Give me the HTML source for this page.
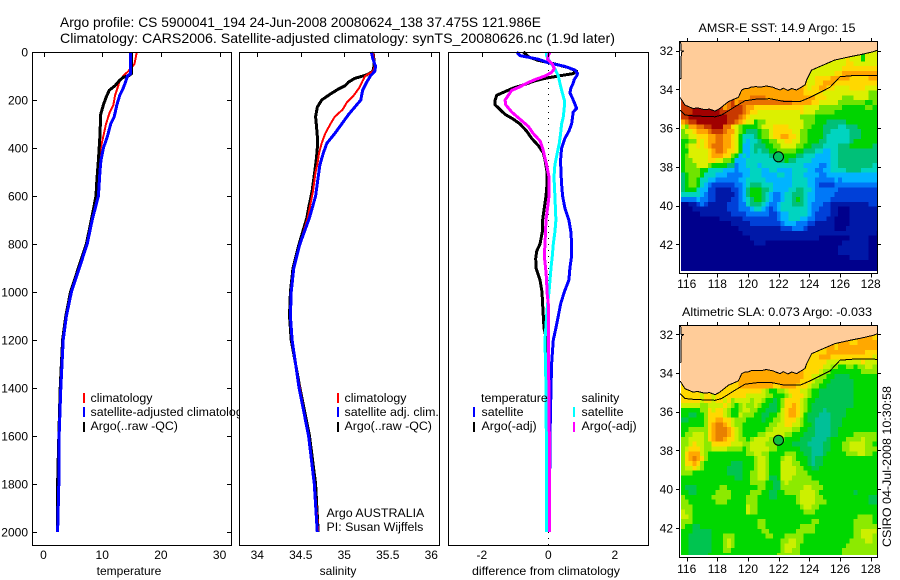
<!DOCTYPE html>
<html lang="en">
<head>
<meta charset="utf-8">
<title>Argo profile</title>
<style>
html,body{margin:0;padding:0;background:#fff;}
svg{display:block;}
text{font-family:"Liberation Sans",sans-serif;font-size:12px;fill:#000;}
text.title{font-size:14px;}
text.lg{font-size:12.4px;}
.line{fill:none;stroke-linejoin:round;shape-rendering:crispEdges;}
.frame{fill:none;stroke:#000;stroke-width:1;shape-rendering:crispEdges;}
.tick{stroke:#000;stroke-width:1;shape-rendering:crispEdges;}
</style>
</head>
<body>
<svg id="chart" width="900" height="580" viewBox="0 0 900 580" xmlns="http://www.w3.org/2000/svg">
<defs>
<clipPath id="clip-sst"><rect x="681" y="42" width="196" height="229"></rect></clipPath>
<clipPath id="clip-sla"><rect x="681" y="326" width="196" height="229"></rect></clipPath>
</defs>
<rect x="0" y="0" width="900" height="580" fill="#fff"></rect>
<text class="title" x="60" y="27" textLength="481" lengthAdjust="spacingAndGlyphs">Argo profile: CS 5900041_194 24-Jun-2008 20080624_138 37.475S 121.986E</text>
<text class="title" x="60" y="43" textLength="555" lengthAdjust="spacingAndGlyphs">Climatology: CARS2006. Satellite-adjusted climatology: synTS_20080626.nc (1.9d later)</text>

<g id="temp-panel">
<rect x="32.5" y="52.5" width="199" height="493" fill="#fff"></rect>
<g id="temp-lines"></g>
<rect x="83" y="393" width="2" height="10" fill="#f00"></rect>
<rect x="83" y="407" width="2" height="10" fill="#00f"></rect>
<rect x="83" y="422" width="2" height="10" fill="#000"></rect>
<text class="lg" x="90.5" y="402">climatology</text>
<text class="lg" x="90.5" y="416">satellite-adjusted climatology</text>
<text class="lg" x="90.5" y="430">Argo(..raw -QC)</text>
<text x="129" y="575" text-anchor="middle">temperature</text>
<g id="temp-axis"></g>
<rect class="frame" x="32.5" y="52.5" width="199" height="493"></rect>
</g>

<g id="sal-panel">
<rect x="239.5" y="52.5" width="200" height="493" fill="#fff"></rect>
<g id="sal-lines"></g>
<rect x="337" y="393" width="2" height="10" fill="#f00"></rect>
<rect x="337" y="407" width="2" height="10" fill="#00f"></rect>
<rect x="337" y="422" width="2" height="10" fill="#000"></rect>
<text class="lg" x="344.5" y="402">climatology</text>
<text class="lg" x="344.5" y="416">satellite adj. clim.</text>
<text class="lg" x="344.5" y="430">Argo(..raw -QC)</text>
<text class="lg" x="326.5" y="517">Argo AUSTRALIA</text>
<text class="lg" x="326.5" y="531">PI: Susan Wijffels</text>
<text x="338" y="575" text-anchor="middle">salinity</text>
<g id="sal-axis"></g>
<rect class="frame" x="239.5" y="52.5" width="200" height="493"></rect>
</g>

<g id="diff-panel">
<rect x="448.5" y="52.5" width="200" height="493" fill="#fff"></rect>
<line x1="548.5" y1="52" x2="548.5" y2="549" stroke="#000" stroke-width="1" stroke-dasharray="1 5" shape-rendering="crispEdges"></line>
<g id="diff-lines"></g>
<text class="lg" x="481" y="402">temperature</text>
<text class="lg" x="581.5" y="402">salinity</text>
<rect x="473" y="407" width="2" height="10" fill="#00f"></rect>
<rect x="473" y="422" width="2" height="10" fill="#000"></rect>
<rect x="573" y="407" width="2" height="10" fill="#0ff"></rect>
<rect x="573" y="422" width="2" height="10" fill="#f0f"></rect>
<text class="lg" x="481.5" y="416">satellite</text>
<text class="lg" x="481.5" y="430">Argo(-adj)</text>
<text class="lg" x="581.5" y="416">satellite</text>
<text class="lg" x="581.5" y="430">Argo(-adj)</text>
<text x="546" y="575" text-anchor="middle" textLength="148" lengthAdjust="spacingAndGlyphs">difference from climatology</text>
<g id="diff-axis"></g>
<rect class="frame" x="448.5" y="52.5" width="200" height="493"></rect>
</g>

<text x="777" y="32" text-anchor="middle" textLength="157" lengthAdjust="spacingAndGlyphs">AMSR-E SST: 14.9 Argo: 15</text>
<g id="sst-map"></g>
<text x="777" y="316" text-anchor="middle" textLength="190" lengthAdjust="spacingAndGlyphs">Altimetric SLA: 0.073 Argo: -0.033</text>
<g id="sla-map"></g>
<text transform="translate(891,547) rotate(-90)" textLength="161" lengthAdjust="spacingAndGlyphs">CSIRO 04-Jul-2008 10:30:58</text>
</svg>

<script>
// ---- Axis tick values ----
const depthTicks = [0, 200, 400, 600, 800, 1000, 1200, 1400, 1600, 1800, 2000];
const tempTicks = [0, 10, 20, 30];
const salTicks = [34, 34.5, 35, 35.5, 36];
const salTickLabels = ['34', '34.5', '35', '35.5', '36'];
const diffTicks = [-2, 0, 2];
const lonTicks = [116, 118, 120, 122, 124, 126, 128];
const latTicks = [32, 34, 36, 38, 40, 42];

// ---- Temperature profiles ----
const tempClimDepth = [0, 50, 80, 100, 120, 150, 180, 220, 250, 300, 350, 400, 450, 500, 600, 700, 800, 900, 1000, 1100, 1200, 1400, 1455];
const tempClimValue = [15.9, 15.5, 14.45, 13.6, 13.0, 12.6, 12.2, 11.9, 11.3, 10.65, 10.2, 9.75, 9.5, 9.4, 9.1, 8.25, 7.4, 6.05, 4.7, 3.85, 3.3, 2.85, 2.8];
const tempSatDepth = [0, 90, 100, 120, 150, 180, 220, 270, 300, 350, 400, 450, 500, 600, 700, 800, 900, 1000, 1100, 1200, 1400, 1600, 1800, 2000];
const tempSatValue = [14.85, 14.85, 14.3, 14.05, 13.6, 13.0, 12.5, 12.05, 11.45, 10.9, 10.2, 9.8, 9.6, 9.35, 8.3, 7.45, 6.1, 4.75, 3.9, 3.35, 2.95, 2.65, 2.6, 2.4];
const tempArgoDepth = [0, 90, 100, 105, 120, 140, 160, 190, 220, 260, 350, 450, 550, 600, 700, 800, 900, 1000, 1100, 1200, 1400, 1650, 1850, 2000];
const tempArgoValue = [15.0, 15.0, 14.45, 13.6, 12.9, 12.2, 11.2, 10.65, 10.2, 9.75, 9.6, 9.35, 9.05, 8.95, 8.15, 7.3, 5.95, 4.6, 3.8, 3.25, 2.85, 2.55, 2.35, 2.4];

// ---- Salinity profiles ----
const salClimDepth = [0, 60, 80, 100, 120, 150, 180, 210, 240, 270, 300, 340, 380, 420, 470, 500, 580, 690, 800, 900, 1000, 1100, 1200, 1300, 1400, 1600, 1800, 2000];
const salClimValue = [35.33, 35.35, 35.33, 35.24, 35.21, 35.17, 35.11, 35.03, 34.98, 34.89, 34.84, 34.78, 34.74, 34.71, 34.69, 34.67, 34.64, 34.58, 34.49, 34.42, 34.39, 34.38, 34.40, 34.44, 34.49, 34.59, 34.66, 34.70];
const salSatDepth = [0, 30, 60, 80, 100, 130, 160, 200, 230, 260, 300, 340, 380, 420, 470, 520, 600, 690, 800, 900, 1000, 1100, 1200, 1300, 1400, 1600, 1800, 2000];
const salSatValue = [35.31, 35.33, 35.36, 35.35, 35.30, 35.25, 35.21, 35.19, 35.12, 35.05, 34.97, 34.89, 34.80, 34.76, 34.72, 34.70, 34.67, 34.60, 34.49, 34.42, 34.39, 34.38, 34.40, 34.44, 34.48, 34.59, 34.655, 34.69];
const salArgoDepth = [0, 30, 60, 80, 95, 110, 125, 140, 155, 175, 200, 230, 270, 310, 350, 400, 440, 500, 580, 650, 690, 800, 900, 1000, 1100, 1200, 1300, 1400, 1600, 1800, 2000];
const salArgoValue = [35.33, 35.34, 35.34, 35.33, 35.26, 35.12, 35.05, 35.01, 34.93, 34.84, 34.74, 34.69, 34.67, 34.68, 34.69, 34.69, 34.68, 34.66, 34.63, 34.59, 34.57, 34.48, 34.41, 34.38, 34.37, 34.39, 34.44, 34.49, 34.60, 34.67, 34.70];

// ---- Differences from climatology ----
const diffTempSatDepth = [0, 15, 30, 45, 60, 75, 90, 100, 115, 130, 150, 170, 190, 210, 235, 250, 270, 300, 330, 360, 400, 450, 500, 550, 600, 650, 700, 750, 800, 850, 900, 950, 1000, 1050, 1100, 1150, 1200, 1300, 1400, 1600, 2000];
const diffTempSatValue = [-0.95, -0.85, -0.3, 0, 0.5, 0.8, 0.88, 0.85, 0.78, 0.75, 0.68, 0.65, 0.72, 0.78, 0.85, 0.75, 0.73, 0.7, 0.62, 0.5, 0.4, 0.37, 0.38, 0.4, 0.43, 0.5, 0.62, 0.68, 0.7, 0.7, 0.65, 0.62, 0.48, 0.37, 0.3, 0.23, 0.15, 0.1, 0.08, 0.05, 0.03];
const diffTempArgoDepth = [0, 20, 35, 50, 65, 80, 90, 100, 110, 120, 135, 150, 165, 180, 200, 220, 240, 260, 280, 300, 330, 360, 390, 420, 450, 500, 550, 600, 650, 700, 750, 800, 830, 860, 900, 950, 1000, 1050, 1100, 1150, 1200, 1300, 2000];
const diffTempArgoValue = [-0.75, -0.6, -0.3, 0.2, 0.6, 0.85, 0.75, 0.3, -0.1, -0.4, -0.7, -1.05, -1.3, -1.55, -1.6, -1.6, -1.45, -1.3, -1.05, -0.85, -0.65, -0.5, -0.3, -0.15, -0.1, -0.04, -0.04, -0.07, -0.12, -0.17, -0.18, -0.25, -0.35, -0.38, -0.37, -0.25, -0.19, -0.17, -0.15, -0.13, -0.05, -0.02, -0.02];
const diffSalSatDepth = [0, 15, 30, 50, 70, 100, 130, 170, 200, 230, 270, 300, 340, 380, 420, 470, 520, 600, 700, 750, 800, 850, 900, 950, 1000, 1050, 1100, 1200, 1400, 1600, 2000];
const diffSalSatValue = [-0.05, -0.05, 0, 0.1, 0.2, 0.3, 0.35, 0.42, 0.48, 0.48, 0.45, 0.4, 0.37, 0.33, 0.27, 0.2, 0.17, 0.2, 0.23, 0.2, 0.15, 0.12, 0.08, 0.05, 0.02, -0.02, -0.05, -0.1, -0.07, -0.06, -0.05];
const diffSalArgoDepth = [0, 15, 30, 50, 70, 85, 100, 115, 130, 145, 160, 180, 200, 220, 250, 280, 310, 340, 370, 400, 430, 470, 520, 600, 650, 700, 800, 850, 900, 950, 1000, 1050, 1100, 1300, 1600, 2000];
const diffSalArgoValue = [0.05, 0, -0.02, 0.12, 0.18, 0.1, -0.1, -0.4, -0.65, -0.85, -1.1, -1.2, -1.3, -1.28, -1.1, -0.85, -0.6, -0.45, -0.25, -0.17, -0.12, -0.05, 0.02, 0.02, -0.02, -0.07, -0.1, -0.12, -0.08, -0.05, -0.04, 0, 0, 0.01, 0.03, 0.03];

// ---- Coastline and shelf-edge contour, longitude east / latitude south ----
const coastLon = [115.57, 115.89, 116.43, 116.7, 117.09, 117.5, 117.85, 118.17, 118.72, 119.1, 119.37, 119.59, 119.8, 120.0, 120.2, 120.46, 120.9, 121.2, 121.65, 121.8, 122.09, 122.3, 122.6, 122.85, 123.17, 123.4, 123.72, 123.83, 124.15, 124.91, 125.67, 126.65, 127.41, 128.17, 128.43];
const coastLat = [34.41, 34.81, 34.99, 34.95, 35.03, 35.02, 35.12, 34.98, 34.63, 34.5, 34.41, 34.03, 33.95, 33.95, 33.88, 33.86, 33.87, 33.82, 33.89, 33.95, 34.03, 33.93, 34.05, 33.95, 34.03, 33.92, 33.77, 33.51, 33.0, 32.74, 32.48, 32.31, 32.19, 32.05, 31.97];
const shelfLon = [115.57, 115.89, 116.54, 117.85, 118.28, 119.15, 119.8, 120.57, 121.43, 122.41, 123.39, 124.04, 125.35, 126, 127.09, 128.43];
const shelfLat = [35.06, 35.32, 35.37, 35.41, 35.32, 34.89, 34.58, 34.5, 34.48, 34.63, 34.63, 34.41, 33.89, 33.34, 33.27, 33.29];
const westCoastLon = [115.61, 115.63, 115.8, 115.65, 115.63, 115.55];
const westCoastLat = [31.53, 32.0, 32.02, 32.1, 33.43, 33.46];
const profileLon = 121.986;
const profileLat = 37.475;

// ---- Heat map colour levels; each row is 52 cells at 0.25 degrees ----
const sstColors = {'0':'#00008c','1':'#0018a8','2':'#0040d8','3':'#0078f8','4':'#00b4ff','5':'#00d4c0','6':'#00c078','7':'#00d400','8':'#70e400','9':'#dcf000','a':'#ffd800','b':'#ffa400','c':'#e87000','d':'#c83800','e':'#a00000'};
const slaColors = {'5':'#00c098','6':'#00c450','7':'#00d800','8':'#8cea00','9':'#ccf000','a':'#ffd800','b':'#ffa800','c':'#e88000'};
const sstRows = [
".......... .......... .......... .......... ............",
".......... .......... .......... .......... ............",
".......... .......... .......... .......... ..........99",
".......... .......... .......... .......... ....99979999",
".......... .......... .......... .......... 999aa9999999",
".......... .......... .......... ......9999 99aaaaaaaaaa",
".......... .......... .......... ....999999 aabbbbbbbbbb",
".......... .......... .......... ....9aaaab bbbbaaaaabbb",
".......... .......... .......... ...99aabbb aaaaaaaaaaaa",
".......... .......... .......... ...9aabbaa 9999aaaa9999",
".......... ......bbbb bbbbbbbbbb bbaaaaa999 999999999888",
".......... .....bbbcc ccbbbbbbbb bbbbbaaa99 998889999888",
".......... ....bccccc cccccccccb bbbbaa9999 988888887788",
"dd........ .bcdddcbba aaaaaaaaaa aa99998888 887777778877",
"ddde...... ddddddcbaa 9999999999 9a99988888 777777777777",
"ddeeeeeeee eedddcba99 9999999999 9888877777 777777777777",
"bcddeeeeee eeddcba997 8899999999 9988877766 666777777777",
"98bbccddee ecca987777 8999aaaa99 9988777666 655666777777",
"899abbbcdd dcbb987666 7889aaaaa9 9887777665 555566677777",
"8899aaabbc cbba975556 7889aabbaa 9887777655 555566677777",
"7788a9abbc cbba975455 6778899aa9 9887776655 555567777777",
"7899a9abcc cbba974456 6677889999 8877666555 566677777766",
"7799999abc cbaa974456 5667788888 7766655445 566666666666",
"7899999abb baa8745455 5556677777 6655544445 566666666666",
"7889999aa9 9887444555 5555566766 5555444445 566666666666",
"7888999877 7766344555 4555555555 5544443345 566666666655",
"7888877555 5444344455 5445544445 5554433445 555666655555",
"6788875554 4433334455 5444455445 5544443344 444444444444",
"6788755443 3333344555 5544444445 5554433333 434444444444",
"6788754322 2222334566 6555444445 5554432222 333333333333",
"6777544221 1112234677 7665444455 6655433333 322222222222",
"5555543221 1111234677 7654334556 6654433333 222222222222",
"3333433221 1112234567 7654334556 7654433332 222222222222",
"0011232111 1122233566 6543345556 6654333221 111111111222",
"0001111111 1122233345 5432345555 5554332221 100011111111",
"0000011111 1112222333 3332234455 5554322221 100011111111",
"0000000000 1111112222 2222234455 5443322211 000011111111",
"0000000000 0001111122 2222223444 3332211111 000011111111",
"0000000000 0000011111 1111112223 3321111111 000111111111",
"0000000000 0000001111 1111111111 1111111111 111111111110",
"0000000000 0000000011 1111111111 1111110000 000011111000",
"0000000000 0000000001 1100000000 0000000000 001111111000",
"0000000000 0000000000 0000000000 0000000000 011111111000",
"0000000000 0000000000 0000000000 0000000000 011111111000",
"0000000000 0000000000 0000000000 0000000000 000011111000",
"0000000000 0000000000 0000000000 0000000000 000000000000",
"0000000000 0000000000 0000000000 0000000000 000000000000",
"0000000000 0000000000 0000000000 0000000000 000000000000"
];
const slaRows = [
".......... .......... .......... .......... ............",
".......... .......... .......... .......... ............",
".......... .......... .......... .......... ..........aa",
".......... .......... .......... .......... ....aabbbbbb",
".......... .......... .......... .......... abbbbbbbbbbb",
".......... .......... .......... ......aabb bbbbbbbbaaaa",
".......... .......... .......... ....aabbba aaaaaaaaaa9a",
".......... .......... .......... ....aaaa99 9999999a9999",
".......... .......... .......... ...aaaa998 877887889988",
".......... .......... .......... ...aaa9887 777777788888",
".......... ......bbbb bbbbbbbbbb bbaa998877 666677777777",
".......... .....bbbbb bbbbbbbbbb baaa988776 666667777777",
".......... ....abbbbb bbbbaabbbb aaa9887766 666667777777",
"aa........ .aaaaaaaaa a9877889aa a998776666 666667777777",
"aaa....... .aaaaaa999 998877789a aa98776666 666667777777",
"aaaaa9aa9a a9a8999989 9877678aaa a987766666 666667777777",
"9999988999 9a98789889 8776678aab a987666666 666667777777",
"7777788a9a a987789988 7766679abb a987666566 666777777777",
"7766778aaa a987798887 7667789abb a976665556 666777777777",
"6677778aab baa9888777 7677889aaa 9876655556 667777777777",
"7777778abc cba9887777 7778899aa9 9877655556 667777777777",
"7788888abc ccba987777 7788999998 8776655556 677777777777",
"7889998abc ccba987777 8899999887 7766655556 677778888887",
"8899998abc cbaa988789 9998888777 7666555567 777888898887",
"889a9988aa aaa9998899 9988877776 6665555667 778899998877",
"89aaa98899 9988887899 9998877777 7666555667 778899998888",
"8abbb98777 7777777889 9887777888 7766555677 777888998877",
"8abcba8777 7777777778 9987778998 7776566777 777777777777",
"8aaba87777 7776667778 9987779998 8776566777 777777777777",
"899a987777 7766667778 9987779999 8877667777 777777777777",
"8887777777 7766667788 9987779999 8887777777 777777777777",
"7777777777 7777667788 9986679998 8888777777 777777777777",
"7777777777 7777777788 8877668988 8888887777 777777777777",
"7666777777 8877777777 8877668888 8899888777 777777777777",
"7766777778 8887777788 8776677888 8999987777 777776777777",
"8777777788 8887777888 7776677777 8999988777 777777777666",
"8877777778 8877777888 7777777777 8999988877 777777777666",
"8887777777 7777777988 7777777777 7899887777 777777777777",
"9887777777 7777777988 7777777777 7788877777 777777777777",
"9987777777 7777777777 7777777777 7777777777 777777888877",
"8887777777 7777777777 8877777777 7777887777 777778888877",
"8776677777 7777777777 8877777777 7888877777 777778888888",
"7776666677 7777777777 7887777777 8888877777 777778899998",
"7766666677 7888777777 7788777888 8877777777 777778899988",
"7766666677 7898777777 7777778899 8877777777 777788889988",
"7766666677 7898777777 7777778999 8777777777 777888888888",
"7766666677 7887777777 7777778998 8777777777 778888888888",
"7766666777 7777777777 7777788888 8777777777 778888888888"
];

const SVG_NS = 'http://www.w3.org/2000/svg';

// ---- Axis functions ----
function yDepth(d) { return 52 + 0.24 * d; }
function xTemp(v) { return 43.5 + 5.87 * v; }
function xSal(v) { return 257.3 + 87 * (v - 34); }
function xDiff(v) { return 548.3 + 33.25 * v; }
function xLon(lon) { return 686.7 + 15.33 * (lon - 116); }
function ySstLat(lat) { return 50.7 + 19.37 * (lat - 32); }
function ySlaLat(lat) { return 334.3 + 19.35 * (lat - 32); }

function drawLine(parent, name, xs, ys, xFn, yFn, color, width) {
  const el = document.createElementNS(SVG_NS, 'polyline');
  
  
  el.setAttribute('class', 'line');
  el.setAttribute('stroke', color);
  el.setAttribute('stroke-width', width);
  el.setAttribute('points', xs.map(function (v, i) { return xFn(v).toFixed(1) + ',' + yFn(ys[i]).toFixed(1); }).join(' '));
  parent.appendChild(el);
  return el;
}

function drawTick(parent, name, x1, y1, x2, y2) {
  const el = document.createElementNS(SVG_NS, 'line');
  
  
  el.setAttribute('class', 'tick');
  el.setAttribute('x1', x1);
  el.setAttribute('y1', y1);
  el.setAttribute('x2', x2);
  el.setAttribute('y2', y2);
  parent.appendChild(el);
}

function drawLabel(parent, name, x, y, anchor, content) {
  const el = document.createElementNS(SVG_NS, 'text');
  
  
  el.setAttribute('x', x);
  el.setAttribute('y', y);
  el.setAttribute('text-anchor', anchor);
  el.textContent = content;
  parent.appendChild(el);
}

function drawXAxis(parent, prefix, ticks, labels, xFn) {
  ticks.forEach(function (t, i) {
    const x = Math.round(xFn(t)) + 0.5;
    drawTick(parent, prefix + '-top-tick', x, 52.5, x, 57);
    drawLabel(parent, prefix + '-tick-label', xFn(t), 559, 'middle', labels[i]);
  });
}

// ---- Profile panels ----
const tempLines = document.getElementById('temp-lines');
drawLine(tempLines, 'temperature-climatology-line', tempClimValue, tempClimDepth, xTemp, yDepth, '#f00', 2);
drawLine(tempLines, 'temperature-argo-line', tempArgoValue, tempArgoDepth, xTemp, yDepth, '#000', 3);
drawLine(tempLines, 'temperature-satellite-line', tempSatValue, tempSatDepth, xTemp, yDepth, '#00f', 3);

const salLines = document.getElementById('sal-lines');
drawLine(salLines, 'salinity-argo-line', salArgoValue, salArgoDepth, xSal, yDepth, '#000', 3);
drawLine(salLines, 'salinity-climatology-line', salClimValue, salClimDepth, xSal, yDepth, '#f00', 2);
drawLine(salLines, 'salinity-satellite-line', salSatValue, salSatDepth, xSal, yDepth, '#00f', 3);

const diffLines = document.getElementById('diff-lines');
drawLine(diffLines, 'difference-temperature-argo-line', diffTempArgoValue, diffTempArgoDepth, xDiff, yDepth, '#000', 3);
drawLine(diffLines, 'difference-temperature-satellite-line', diffTempSatValue, diffTempSatDepth, xDiff, yDepth, '#00f', 3);
drawLine(diffLines, 'difference-salinity-satellite-line', diffSalSatValue, diffSalSatDepth, xDiff, yDepth, '#0ff', 3);
drawLine(diffLines, 'difference-salinity-argo-line', diffSalArgoValue, diffSalArgoDepth, xDiff, yDepth, '#f0f', 3);

const tempAxis = document.getElementById('temp-axis');
drawXAxis(tempAxis, 'temperature-x', tempTicks, tempTicks.map(String), xTemp);
depthTicks.forEach(function (d) {
  const y = Math.round(yDepth(d)) + 0.5;
  drawTick(tempAxis, 'depth-left-tick', 32.5, y, 37, y);
  drawTick(tempAxis, 'depth-right-tick', 227, y, 231.5, y);
  drawLabel(tempAxis, 'depth-tick-label', 28, yDepth(d) + 4.5, 'end', String(d));
});
drawXAxis(document.getElementById('sal-axis'), 'salinity-x', salTicks, salTickLabels, xSal);
drawXAxis(document.getElementById('diff-axis'), 'difference-x', diffTicks, diffTicks.map(String), xDiff);

// ---- Maps ----
function drawMap(groupId, prefix, rows, palette, yFn, clipId, markerFill, labelBaseline) {
  const map = document.getElementById(groupId);
  const cells = document.createElementNS(SVG_NS, 'g');
  
  
  cells.setAttribute('clip-path', 'url(#' + clipId + ')');
  cells.setAttribute('shape-rendering', 'crispEdges');
  map.appendChild(cells);
  const table = rows.map(function (r) { return r.replace(/ /g, ''); });
  table.forEach(function (row, j) {
    for (let i = 0; i < row.length; i++) {
      // A land-flagged cell takes the colour of the nearest ocean cell to its south;
      // the land polygon drawn next hides all but the strip along the coast.
      let code = row[i];
      for (let k = j + 1; code === '.' && k < table.length; k++) {
        code = table[k][i];
      }
      const lonW = 115.625 + 0.25 * i;
      const latN = 31.55 + 0.25 * j;
      const x0 = xLon(lonW);
      const y0 = yFn(latN);
      const cell = document.createElementNS(SVG_NS, 'rect');
      
      
      cell.setAttribute('x', x0.toFixed(2));
      cell.setAttribute('y', y0.toFixed(2));
      cell.setAttribute('width', (xLon(lonW + 0.25) - x0 + 0.4).toFixed(2));
      cell.setAttribute('height', (yFn(latN + 0.25) - y0 + 0.4).toFixed(2));
      cell.setAttribute('fill', palette[code]);
      cells.appendChild(cell);
    }
  });

  const top = Math.round(yFn(31.56));
  const land = document.createElementNS(SVG_NS, 'polygon');
  
  
  land.setAttribute('fill', '#ffcc99');
  land.setAttribute('clip-path', 'url(#' + clipId + ')');
  const pts = coastLon.map(function (lon, i) { return xLon(lon).toFixed(1) + ',' + yFn(coastLat[i]).toFixed(1); });
  pts.push(xLon(128.43).toFixed(1) + ',' + (top - 1));
  pts.push(xLon(115.57).toFixed(1) + ',' + (top - 1));
  land.setAttribute('points', pts.join(' '));
  map.appendChild(land);

  drawLine(map, prefix + '-coastline', coastLon, coastLat, xLon, yFn, '#000', 1);
  drawLine(map, prefix + '-shelf-contour', shelfLon, shelfLat, xLon, yFn, '#000', 1);
  drawLine(map, prefix + '-west-coast', westCoastLon, westCoastLat, xLon, yFn, '#000', 1);

  const frameBottom = top + 231.5;
  const frame = document.createElementNS(SVG_NS, 'rect');
  
  
  frame.setAttribute('class', 'frame');
  frame.setAttribute('x', 679.5);
  frame.setAttribute('y', top - 0.5);
  frame.setAttribute('width', 198);
  frame.setAttribute('height', frameBottom - top + 0.5);
  map.appendChild(frame);

  lonTicks.forEach(function (lon) {
    const x = Math.round(xLon(lon)) + 0.5;
    drawTick(map, prefix + '-lon-top-tick', x, top - 4, x, top);
    drawTick(map, prefix + '-lon-bottom-tick', x, frameBottom, x, frameBottom + 4);
    drawLabel(map, prefix + '-lon-label', xLon(lon), labelBaseline, 'middle', String(lon));
  });
  latTicks.forEach(function (lat) {
    const y = Math.round(yFn(lat)) + 0.5;
    drawTick(map, prefix + '-lat-left-tick', 676, y, 679.5, y);
    drawTick(map, prefix + '-lat-right-tick', 877.5, y, 881, y);
    drawLabel(map, prefix + '-lat-label', 673, yFn(lat) + 4.5, 'end', String(lat));
  });

  const marker = document.createElementNS(SVG_NS, 'circle');
  
  
  marker.setAttribute('cx', xLon(profileLon).toFixed(1));
  marker.setAttribute('cy', yFn(profileLat).toFixed(1));
  marker.setAttribute('r', 5);
  marker.setAttribute('fill', markerFill);
  marker.setAttribute('stroke', '#000');
  marker.setAttribute('stroke-width', 1);
  map.appendChild(marker);
}
drawMap('sst-map', 'sst-map', sstRows, sstColors, ySstLat, 'clip-sst', '#00c060', 288);
drawMap('sla-map', 'sla-map', slaRows, slaColors, ySlaLat, 'clip-sla', '#10c040', 573);
</script>
</body>
</html>
